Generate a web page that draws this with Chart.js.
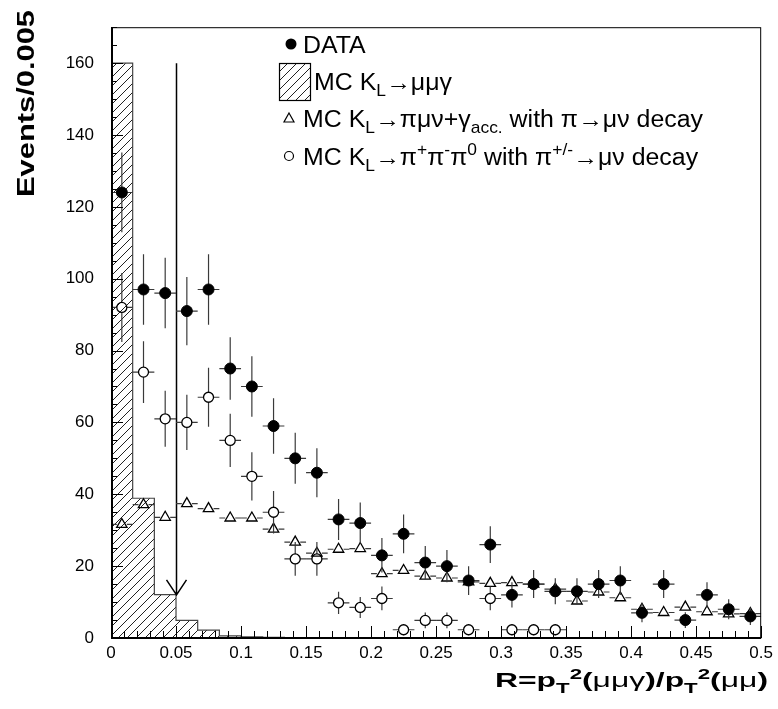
<!DOCTYPE html>
<html><head><meta charset="utf-8">
<script src="https://cdn.jsdelivr.net/npm/chart.js@4.4.1/dist/chart.umd.min.js"></script>
<style>html,body{margin:0;padding:0;background:#fff;}canvas{display:block;}</style>
</head><body>
<canvas id="c" width="778" height="709"></canvas>
<script>
// ---------- data ----------
const binCenters = [0.00833,0.025,0.04167,0.05833,0.075,0.09167,0.10833,0.125,0.14167,0.15833,
  0.175,0.19167,0.20833,0.225,0.24167,0.25833,0.275,0.29167,0.30833,0.325,
  0.34167,0.35833,0.375,0.39167,0.40833,0.425,0.44167,0.45833,0.475,0.49167];
const binHalfWidth = 0.008333;
const dataValues = [124,97,96,91,97,75,70,59,50,46,33,32,23,29,21,20,16,26,12,15,13,13,15,16,7,15,5,12,8,6];
const dataErrors = [11.1,9.8,9.8,9.5,9.8,8.7,8.4,7.7,7.1,6.8,5.7,5.7,4.8,5.4,4.6,4.5,4.0,5.1,3.5,3.9,3.6,3.6,3.9,4.0,2.6,3.9,2.2,3.5,2.8,2.4];
const mcMuMuGammaValues = [160,38.9,12.1,4.9,2.2,0.6,0.3,0.2,0.1,0.1,0,0,0,0,0,0,0,0,0,0,0,0,0,0,0,0,0,0,0,0];
const piMuNuValues = [31.6,37.1,33.6,37.4,36.0,33.4,33.4,30.3,26.7,23.6,24.7,24.9,17.9,18.8,17.2,16.7,15.6,15.2,15.4,15.0,13.6,10.3,12.8,11.2,8.0,7.1,8.6,7.3,6.7,6.8];
const piMuNuErrors = [1.2,1.3,1.2,1.3,1.3,1.2,1.2,1.2,1.1,1.0,1.0,1.0,0.9,0.9,0.9,0.9,0.8,0.8,0.8,0.8,0.8,0.7,0.7,0.7,0.6,0.6,0.6,0.6,0.6,0.6];
const piPiPiValues = [92,74,61,60,67,55,45,35,22,22,9.8,8.5,11,2.3,4.9,4.9,2.3,11,2.3,2.3,2.3,null,null,null,null,null,null,null,null,null];
const piPiPiErrors = [9.6,8.6,7.8,7.7,8.2,7.4,6.7,5.9,4.7,4.7,3.1,2.9,3.3,1.5,2.2,2.2,1.5,3.3,1.5,1.5,1.5,0,0,0,0,0,0,0,0,0];
const yTickValues = [0,20,40,60,80,100,120,140,160];
const xTickValues = [0,0.05,0.1,0.15,0.2,0.25,0.3,0.35,0.4,0.45,0.5];
const xTickLabels = ['0','0.05','0.1','0.15','0.2','0.25','0.3','0.35','0.4','0.45','0.5'];
const cutPosition = 0.05, cutArrowTop = 160, cutArrowTip = 12;
const legendLabels = [
  [{t:'DATA'}],
  [{t:'MC K'},{t:'L',sub:1},{t:'\u2192\u03bc\u03bc\u03b3'}],
  [{t:'MC K'},{t:'L',sub:1},{t:'\u2192\u03c0\u03bc\u03bd+\u03b3'},{t:'acc.',sub:1},{t:' with \u03c0\u2192\u03bc\u03bd decay'}],
  [{t:'MC K'},{t:'L',sub:1},{t:'\u2192\u03c0'},{t:'+',sup:1},{t:'\u03c0'},{t:'-',sup:1},{t:'\u03c0'},{t:'0',sup:1},{t:' with \u03c0'},{t:'+/-',sup:1},{t:'\u2192\u03bc\u03bd decay'}]
];
const xTitle = [{t:'R=p'},{t:'T',sub:1},{t:'2',sup:1},{t:'('},{t:'\u03bc\u03bc\u03b3',reg:1},{t:')/p'},{t:'T',sub:1},{t:'2',sup:1},{t:'('},{t:'\u03bc\u03bc',reg:1},{t:')'}];
const yTitle = 'Events/0.005';

// ---------- helpers ----------
const FONT = '"Liberation Sans", Arial, Helvetica, sans-serif';
function hatchPattern(ctx){
  const s = 9, c = document.createElement('canvas');
  c.width = s; c.height = s;
  const g = c.getContext('2d');
  g.strokeStyle = '#222'; g.lineWidth = 1;
  g.beginPath();
  g.moveTo(0, s); g.lineTo(s, 0);
  g.moveTo(-1, 1); g.lineTo(1, -1);
  g.moveTo(s-1, s+1); g.lineTo(s+1, s-1);
  g.stroke();
  return ctx.createPattern(c, 'repeat');
}
function pts(vals){
  const out = [];
  binCenters.forEach((x,i)=>{ if (vals[i] !== null) out.push({x:x, y:vals[i], i:i}); });
  return out;
}
function histPts(vals){
  const out = binCenters.map((x,i)=>({x: x - binHalfWidth, y: vals[i]}));
  out.push({x: binCenters[binCenters.length-1] + binHalfWidth, y: vals[vals.length-1]});
  return out;
}
function runFont(r, size, bold){
  let sz = size;
  if (r.sub || r.sup) sz = size*0.7;
  return ((bold && !r.reg) ? 'bold ' : '') + sz + 'px ' + FONT;
}
function richWidth(ctx, runs, size, bold){
  let w = 0;
  ctx.save();
  runs.forEach(r=>{ ctx.font = runFont(r, size, bold); w += ctx.measureText(r.t).width; });
  ctx.restore();
  return w;
}
function richText(ctx, runs, x, y, size, sx, bold){
  ctx.save();
  ctx.translate(x, y);
  ctx.scale(sx, 1);
  let cx = 0;
  ctx.textBaseline = 'alphabetic';
  ctx.textAlign = 'left';
  runs.forEach(r=>{
    let dy = 0;
    if (r.sub) dy = size*0.3;
    if (r.sup) dy = -size*0.4;
    ctx.font = runFont(r, size, bold);
    ctx.fillText(r.t, cx, dy);
    cx += ctx.measureText(r.t).width;
  });
  ctx.restore();
}

const ctx0 = document.getElementById('c').getContext('2d');
const hatch = hatchPattern(ctx0);

// ---------- plugin: error bars, arrow, frame, ticks, legend, titles ----------
const rootStyle = {
  id: 'rootStyle',
  beforeDatasetDraw(chart, args){
    const ds = chart.data.datasets[args.index];
    if (!ds.errY) return;
    const ctx = chart.ctx, xs = chart.scales.x, ys = chart.scales.y, a = chart.chartArea;
    ctx.save();
    ctx.beginPath(); ctx.rect(a.left, a.top, a.right-a.left, a.bottom-a.top); ctx.clip();
    ctx.strokeStyle = '#3a3a3a'; ctx.lineWidth = 1.2;
    const g = ds.gap;
    ds.data.forEach(p=>{
      const e = ds.errY[p.i];
      const px = xs.getPixelForValue(p.x), py = ys.getPixelForValue(p.y);
      const xl = xs.getPixelForValue(p.x - binHalfWidth), xr = xs.getPixelForValue(p.x + binHalfWidth);
      const yt = ys.getPixelForValue(p.y + e), yb = ys.getPixelForValue(Math.max(0, p.y - e));
      ctx.beginPath();
      ctx.moveTo(xl, py); ctx.lineTo(px - g, py);
      ctx.moveTo(px + g, py); ctx.lineTo(xr, py);
      if (yt < py - g){ ctx.moveTo(px, yt); ctx.lineTo(px, py - g); }
      if (yb > py + g){ ctx.moveTo(px, py + g); ctx.lineTo(px, yb); }
      ctx.stroke();
    });
    ctx.restore();
  },
  afterDatasetDraw(chart, args){
    if (args.index !== 0) return;
    const ctx = chart.ctx, xs = chart.scales.x, ys = chart.scales.y;
    const ax = Math.round(xs.getPixelForValue(cutPosition)) + 0.5;
    const y0 = ys.getPixelForValue(cutArrowTop), y1 = ys.getPixelForValue(cutArrowTip);
    ctx.save();
    ctx.strokeStyle = '#000'; ctx.lineWidth = 1.5;
    ctx.beginPath();
    ctx.moveTo(ax, y0); ctx.lineTo(ax, y1);
    ctx.moveTo(ax - 10, y1 - 15); ctx.lineTo(ax, y1); ctx.lineTo(ax + 10, y1 - 15);
    ctx.stroke();
    ctx.restore();
  },
  afterDraw(chart){
    const ctx = chart.ctx, a = chart.chartArea, xs = chart.scales.x, ys = chart.scales.y;
    ctx.save();
    // inward ticks
    ctx.strokeStyle = '#000'; ctx.lineWidth = 1;
    ctx.beginPath();
    for (let v = 0; v <= 170.001; v += 5){
      const y = Math.round(ys.getPixelForValue(v)) + 0.5;
      const len = (Math.abs(v % 20) < 1e-6) ? 12 : 6;
      ctx.moveTo(a.left, y); ctx.lineTo(a.left + len, y);
    }
    for (let k = 0; k <= 50; k++){
      const v = k * 0.01;
      const x = Math.round(xs.getPixelForValue(v)) + 0.5;
      const len = (k % 5 === 0) ? 12 : 7;
      ctx.moveTo(x, a.bottom); ctx.lineTo(x, a.bottom - len);
    }
    ctx.stroke();
    // frame
    ctx.lineWidth = 1;
    ctx.strokeRect(a.left + 0.5, a.top + 0.5, a.right - a.left - 1, a.bottom - a.top - 1);
    ctx.lineWidth = 2;
    ctx.beginPath();
    ctx.moveTo(a.left + 1, a.top); ctx.lineTo(a.left + 1, a.bottom);
    ctx.lineTo(a.right, a.bottom);
    ctx.stroke();

    // legend
    ctx.fillStyle = '#000'; ctx.strokeStyle = '#000';
    const rows = [44, 81, 118, 156], fs = 23;
    const sx = 400 / richWidth(ctx, legendLabels[2], fs, false);
    ctx.beginPath(); ctx.arc(291, rows[0], 5.5, 0, Math.PI*2); ctx.fill();
    ctx.fillStyle = hatch; ctx.fillRect(279, 63, 31, 37);
    ctx.lineWidth = 1.2; ctx.strokeRect(279.5, 63.5, 31, 37);
    ctx.fillStyle = '#000';
    const mx = 289;
    ctx.beginPath();
    ctx.moveTo(mx, rows[2] - 5); ctx.lineTo(mx + 5, rows[2] + 4); ctx.lineTo(mx - 5, rows[2] + 4); ctx.closePath(); ctx.stroke();
    ctx.beginPath(); ctx.arc(mx, rows[3], 4.5, 0, Math.PI*2); ctx.stroke();
    richText(ctx, legendLabels[0], 303, rows[0] + 8.5, fs, sx, false);
    richText(ctx, legendLabels[1], 314, rows[1] + 8.5, fs, sx, false);
    richText(ctx, legendLabels[2], 303, rows[2] + 8.5, fs, sx, false);
    richText(ctx, legendLabels[3], 303, rows[3] + 8.5, fs, sx, false);

    // x title (fit to the reference span 495..768)
    const tsx = 273 / richWidth(ctx, xTitle, 21, true);
    richText(ctx, xTitle, 495, 687, 21, tsx, true);
    // y title
    ctx.save();
    ctx.translate(34, 10);
    ctx.rotate(-Math.PI/2);
    ctx.font = 'bold 24px ' + FONT;
    ctx.scale(187 / ctx.measureText(yTitle).width, 1);
    ctx.textAlign = 'right'; ctx.textBaseline = 'alphabetic';
    ctx.fillText(yTitle, 0, 0);
    ctx.restore();
    ctx.restore();
  }
};

new Chart(ctx0, {
  type: 'scatter',
  data: {
    datasets: [
      { type: 'line', label: 'MC KL->mumugamma', data: histPts(mcMuMuGammaValues), stepped: 'before',
        borderColor: '#444', borderWidth: 1.2, pointRadius: 0, fill: 'origin', backgroundColor: hatch, order: 4 },
      { label: 'MC KL->pimunu+gamma', data: pts(piMuNuValues), errY: piMuNuErrors, gap: 5,
        pointStyle: 'triangle', pointRadius: 6, pointBorderColor: '#000', pointBackgroundColor: 'rgba(0,0,0,0)', pointBorderWidth: 1.3, order: 3 },
      { label: 'MC KL->pi+pi-pi0', data: pts(piPiPiValues), errY: piPiPiErrors, gap: 5,
        pointStyle: 'circle', pointRadius: 5, pointBorderColor: '#000', pointBackgroundColor: 'rgba(0,0,0,0)', pointBorderWidth: 1.3, order: 2 },
      { label: 'DATA', data: pts(dataValues), errY: dataErrors, gap: 5,
        pointStyle: 'circle', pointRadius: 5.5, pointBorderColor: '#000', pointBackgroundColor: '#000', pointBorderWidth: 1, order: 1 }
    ]
  },
  options: {
    responsive: false, animation: false, devicePixelRatio: 1,
    layout: { padding: { left: 0, right: 15, top: 7, bottom: 0 } },
    plugins: { legend: { display: false }, tooltip: { enabled: false } },
    scales: {
      x: {
        type: 'linear', min: 0, max: 0.5,
        grid: { display: false, drawTicks: false }, border: { display: false },
        afterBuildTicks: s => { s.ticks = xTickValues.map(v => ({ value: v })); },
        afterFit: s => { s.height = 71; },
        ticks: { autoSkip: false, maxRotation: 0, padding: 5, color: '#000',
          font: { family: FONT, size: 17 }, callback: (v, i) => xTickLabels[i] }
      },
      y: {
        type: 'linear', min: 0, max: 170,
        grid: { display: false, drawTicks: false }, border: { display: false },
        afterBuildTicks: s => { s.ticks = yTickValues.map(v => ({ value: v })); },
        afterFit: s => { s.width = 111; },
        ticks: { padding: 17, color: '#000', font: { family: FONT, size: 17 } }
      }
    }
  },
  plugins: [rootStyle]
});
</script>
</body></html>
